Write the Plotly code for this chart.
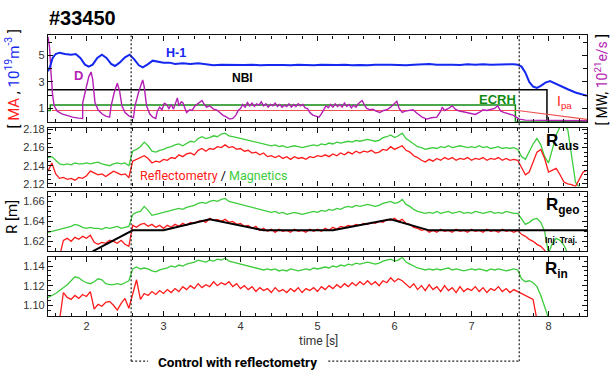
import plotly.graph_objects as go

# ---------------- data ----------------
# Panel 1: H-1 density (blue), D fuelling (magenta), NBI, ECRH, Ipa
H1_T = [1.50,1.53,1.56,1.60,1.65,1.72,1.80,1.86,1.92,1.98,
        2.03,2.08,2.14,2.20,2.26,2.32,2.37,2.43,2.50,2.56,
        2.62,2.68,2.73,2.79,2.86,2.93,3.00,3.08,3.15,3.25,
        3.35,3.45,3.55,3.65,3.75,3.85,3.95,4.05,4.15,4.25,
        4.35,4.45,4.55,4.65,4.75,4.85,4.95,5.05,5.15,5.25,
        5.35,5.45,5.55,5.65,5.75,5.85,5.95,6.05,6.15,6.25,
        6.35,6.45,6.55,6.65,6.75,6.85,6.95,7.05,7.15,7.25,
        7.35,7.45,7.55,7.60,7.65,7.70,7.75,7.80,7.85,7.90,
        7.96,8.02,8.08,8.15,8.25,8.35,8.45,8.50]
H1_V = [3.8,4.2,4.8,5.1,5.2,5.1,5.05,5.1,4.8,4.3,
        4.15,4.3,4.8,5.05,4.8,4.35,4.2,4.45,4.85,5.05,
        4.7,4.25,4.1,4.3,4.6,4.5,4.45,4.45,4.35,4.4,
        4.35,4.4,4.3,4.25,4.3,4.28,4.25,4.27,4.3,4.26,
        4.28,4.25,4.27,4.26,4.3,4.28,4.26,4.3,4.28,4.27,
        4.3,4.26,4.28,4.25,4.3,4.32,4.3,4.28,4.25,4.3,
        4.33,4.35,4.3,4.32,4.3,4.28,4.32,4.3,4.33,4.3,
        4.32,4.31,4.33,4.3,4.15,3.7,3.0,2.65,2.55,2.7,
        2.95,3.07,2.9,2.7,2.45,2.2,2.0,1.95]

D_T = [1.50,1.52,1.54,1.56,1.58,1.62,1.68,1.75,1.82,1.90,1.95,1.951,1.99,2.03,2.06,2.08,2.11,2.15,2.20,2.25,
       2.30,2.32,2.36,2.40,2.43,2.46,2.50,2.55,2.61,2.63,2.68,2.73,2.75,2.78,2.82,2.86,2.90,2.92,2.95,2.98,
       3.01,3.04,3.07,3.10,3.13,3.16,3.18,3.20,3.23,3.25,3.28,3.30,3.34,3.37,3.41,3.45,3.50,3.53,3.56,3.60,
       3.65,3.69,3.73,3.77,3.82,3.86,3.90,3.94,3.97,4.00,4.03,4.06,4.09,4.12,4.15,4.18,4.21,4.24,4.27,4.30,
       4.33,4.36,4.39,4.42,4.45,4.48,4.51,4.54,4.57,4.60,4.63,4.66,4.69,4.72,4.75,4.78,4.81,4.84,4.87,4.90,
       4.94,4.98,5.02,5.05,5.08,5.11,5.14,5.17,5.20,5.23,5.26,5.29,5.32,5.35,5.38,5.41,5.44,5.47,5.50,5.53,
       5.56,5.58,5.61,5.64,5.68,5.72,5.76,5.81,5.86,5.90,5.95,5.99,6.03,6.06,6.10,6.14,6.18,6.24,6.30,6.36,
       6.42,6.48,6.55,6.60,6.62,6.65,6.70,6.75,6.79,6.84,6.89,6.94,7.00,7.05,7.10,7.15,7.20,7.25,7.30,7.34,
       7.38,7.42,7.48,7.54,7.58,7.62,7.70,8.00,8.50]
D_V = [6.4,5.6,3.6,2.0,1.2,0.8,0.6,0.45,0.35,0.27,0.25,1.45,2.5,3.4,3.75,3.2,1.45,0.9,0.6,0.42,
       0.35,1.2,2.2,2.9,2.3,1.2,0.7,0.45,0.3,1.2,2.3,3.15,2.6,1.2,0.6,0.35,0.25,0.8,1.1,0.9,
       1.4,1.3,1.0,1.3,0.95,1.5,1.8,1.2,1.5,1.45,1.0,0.7,0.9,0.85,1.2,1.4,1.6,1.3,1.1,1.2,
       0.95,0.9,0.7,0.5,0.35,0.2,0.25,0.5,0.85,1.0,1.3,1.1,1.45,1.2,1.4,1.15,1.35,1.25,1.5,1.2,
       1.35,1.1,1.3,1.2,1.4,1.15,1.3,1.1,1.25,1.15,1.35,1.1,1.3,1.15,1.35,1.2,1.3,1.05,1.0,0.7,
       0.5,0.4,0.35,0.6,0.9,1.2,1.05,1.3,1.1,1.35,1.15,1.3,1.1,1.4,1.15,1.3,1.05,1.25,1.1,1.35,
       1.5,1.6,1.25,1.0,0.9,0.95,0.8,0.7,0.85,0.9,1.1,1.3,1.55,1.0,0.7,0.8,0.85,0.9,0.6,0.35,
       0.2,0.3,0.35,0.8,1.1,0.85,1.0,1.2,0.95,0.8,0.75,0.7,0.6,0.55,0.7,0.9,0.85,0.95,1.0,1.2,
       0.8,0.7,0.6,0.5,0.35,0.2,0.12,0.1,0.08]

NBI_T = [1.50, 7.98, 7.98, 8.50]
NBI_V = [2.4, 2.4, 0.0, 0.0]
ECRH_T = [1.50, 1.53, 1.53, 7.57, 7.57, 8.50]
ECRH_V = [0.85, 0.85, 1.27, 1.27, 0.0, 0.0]
IPA_T = [1.55, 7.60, 8.50]
IPA_V = [0.85, 0.85, 0.18]

# Panels 2-4: common time base [s]
T = [1.50,1.55,1.60,1.65,1.70,1.75,1.80,1.85,1.90,1.95,
     2.00,2.05,2.10,2.15,2.20,2.25,2.30,2.35,2.40,2.45,
     2.50,2.55,2.60,2.65,2.70,2.75,2.80,2.85,2.90,2.95,
     3.00,3.05,3.10,3.15,3.20,3.25,3.30,3.35,3.40,3.45,
     3.50,3.55,3.60,3.65,3.70,3.75,3.80,3.85,3.90,3.95,
     4.00,4.05,4.10,4.15,4.20,4.25,4.30,4.35,4.40,4.45,
     4.50,4.55,4.60,4.65,4.70,4.75,4.80,4.85,4.90,4.95,
     5.00,5.05,5.10,5.15,5.20,5.25,5.30,5.35,5.40,5.45,
     5.50,5.55,5.60,5.65,5.70,5.75,5.80,5.85,5.90,5.95,
     6.00,6.05,6.10,6.15,6.20,6.25,6.30,6.35,6.40,6.45,
     6.50,6.55,6.60,6.65,6.70,6.75,6.80,6.85,6.90,6.95,
     7.00,7.05,7.10,7.15,7.20,7.25,7.30,7.35,7.40,7.45,
     7.50,7.55,7.60,7.65,7.70,7.75,7.80,7.85,7.90,7.95,
     8.00,8.05,8.10,8.15,8.20,8.25,8.30,8.35,8.40,8.45,
     8.50]

RAUS_MAG = [2.149,2.150,2.146,2.142,2.141,2.142,2.141,2.143,2.142,2.142,
            2.143,2.142,2.143,2.144,2.142,2.141,2.140,2.142,2.143,2.142,
            2.143,2.140,2.156,2.158,2.161,2.166,2.162,2.156,2.155,2.157,
            2.158,2.160,2.161,2.163,2.164,2.162,2.165,2.167,2.166,2.170,
            2.172,2.170,2.171,2.173,2.172,2.175,2.176,2.173,2.172,2.171,
            2.170,2.169,2.168,2.167,2.166,2.165,2.164,2.163,2.162,2.163,
            2.161,2.162,2.160,2.161,2.162,2.161,2.160,2.161,2.162,2.163,
            2.162,2.164,2.163,2.165,2.164,2.166,2.165,2.166,2.167,2.166,
            2.168,2.167,2.168,2.169,2.168,2.167,2.168,2.171,2.172,2.174,
            2.171,2.173,2.176,2.170,2.167,2.164,2.161,2.160,2.158,2.159,
            2.160,2.159,2.161,2.160,2.162,2.160,2.161,2.162,2.161,2.160,
            2.161,2.160,2.162,2.160,2.161,2.159,2.160,2.161,2.159,2.160,
            2.159,2.160,2.158,2.150,2.147,2.156,2.164,2.170,2.163,2.150,
            2.143,2.158,2.174,2.183,2.185,2.180,2.150,2.122,2.116,None,
            None]
RAUS_REF = [2.134,2.143,2.131,2.126,2.127,2.125,2.126,2.124,2.127,2.126,
            2.129,2.134,2.132,2.130,2.131,2.128,2.131,2.134,2.132,2.130,
            2.131,2.127,2.145,2.147,2.149,2.151,2.148,2.143,2.145,2.144,
            2.147,2.146,2.149,2.148,2.152,2.150,2.153,2.154,2.152,2.157,
            2.159,2.156,2.159,2.158,2.161,2.160,2.163,2.160,2.161,2.158,
            2.159,2.156,2.157,2.154,2.155,2.152,2.154,2.150,2.151,2.149,
            2.151,2.148,2.150,2.147,2.150,2.148,2.149,2.147,2.150,2.149,
            2.151,2.150,2.152,2.150,2.153,2.151,2.154,2.152,2.155,2.153,
            2.156,2.154,2.156,2.155,2.157,2.154,2.155,2.158,2.157,2.161,
            2.158,2.160,2.162,2.157,2.155,2.151,2.149,2.146,2.144,2.147,
            2.145,2.148,2.146,2.149,2.147,2.149,2.146,2.148,2.147,2.149,
            2.146,2.148,2.147,2.149,2.146,2.148,2.147,2.149,2.146,2.148,
            2.146,2.147,2.146,2.138,2.130,2.133,2.145,2.155,2.158,2.148,
            2.133,2.135,2.137,2.130,2.122,2.120,2.119,2.117,2.125,2.133,
            2.135]

RGEO_MAG = [1.629,1.630,1.631,1.632,1.633,1.634,1.635,1.637,1.636,1.634,
            1.633,1.634,1.633,1.633,1.632,1.634,1.633,1.634,1.635,1.633,
            1.634,1.635,1.647,1.649,1.650,1.655,1.651,1.646,1.647,1.648,
            1.649,1.650,1.651,1.652,1.653,1.652,1.654,1.655,1.656,1.658,
            1.659,1.658,1.660,1.661,1.660,1.662,1.663,1.660,1.659,1.658,
            1.657,1.656,1.655,1.654,1.653,1.652,1.651,1.650,1.649,1.650,
            1.648,1.649,1.647,1.648,1.649,1.648,1.647,1.648,1.649,1.650,
            1.649,1.651,1.650,1.652,1.651,1.653,1.652,1.654,1.655,1.654,
            1.656,1.655,1.656,1.657,1.656,1.655,1.656,1.658,1.659,1.660,
            1.658,1.659,1.662,1.657,1.655,1.652,1.650,1.649,1.648,1.649,
            1.648,1.650,1.648,1.649,1.650,1.648,1.649,1.650,1.648,1.649,
            1.648,1.650,1.649,1.648,1.649,1.650,1.648,1.649,1.648,1.650,
            1.649,1.648,1.648,1.642,1.637,1.639,1.642,1.643,1.639,1.630,
            1.608,1.618,1.623,1.621,1.616,1.608,None,None,None,None,
            None]
RGEO_REF = [None,None,None,1.605,1.621,1.623,1.620,1.624,1.622,1.625,
            1.623,1.626,1.619,1.617,1.619,1.618,1.621,1.620,1.618,1.621,
            1.617,1.615,1.636,1.634,1.637,1.638,1.635,1.637,1.634,1.636,
            1.633,1.636,1.634,1.637,1.635,1.638,1.636,1.639,1.638,1.640,
            1.641,1.639,1.643,1.641,1.642,1.640,1.642,1.639,1.640,1.637,
            1.638,1.635,1.636,1.633,1.635,1.631,1.633,1.630,1.632,1.629,
            1.632,1.630,1.631,1.629,1.632,1.630,1.631,1.629,1.632,1.630,
            1.632,1.630,1.633,1.631,1.634,1.632,1.635,1.634,1.636,1.635,
            1.637,1.636,1.638,1.637,1.639,1.638,1.640,1.639,1.642,1.641,
            1.643,1.640,1.642,1.638,1.637,1.634,1.633,1.631,1.632,1.629,
            1.631,1.629,1.632,1.630,1.631,1.629,1.632,1.630,1.631,1.629,
            1.632,1.630,1.631,1.629,1.632,1.630,1.631,1.629,1.632,1.630,
            1.631,1.629,1.631,1.627,1.625,1.622,1.620,1.617,1.615,1.611,
            1.605,None,None,None,None,None,None,None,None,None,
            None]
INJ_T = [2.08, 2.60, 3.00, 3.60, 4.30, 5.20, 5.95, 6.45, 8.50]
INJ_V = [1.610, 1.631, 1.631, 1.642, 1.631, 1.631, 1.642, 1.631, 1.631]

RIN_MAG = [1.108,1.110,1.112,1.115,1.118,1.121,1.125,1.129,1.128,1.125,
           1.123,1.122,1.124,1.127,1.126,1.122,1.121,1.121,1.122,1.121,
           1.123,1.125,1.137,1.139,1.137,1.138,1.137,1.135,1.134,1.136,
           1.137,1.138,1.140,1.139,1.141,1.140,1.142,1.143,1.144,1.146,
           1.145,1.144,1.146,1.145,1.147,1.146,1.148,1.145,1.144,1.143,
           1.142,1.141,1.140,1.139,1.138,1.137,1.136,1.137,1.136,1.137,
           1.135,1.136,1.135,1.137,1.136,1.135,1.136,1.137,1.136,1.138,
           1.137,1.138,1.139,1.138,1.140,1.139,1.141,1.140,1.142,1.141,
           1.143,1.142,1.143,1.144,1.143,1.142,1.143,1.145,1.146,1.147,
           1.145,1.146,1.149,1.144,1.142,1.140,1.138,1.137,1.136,1.137,
           1.136,1.137,1.136,1.137,1.138,1.136,1.137,1.136,1.135,1.136,
           1.137,1.136,1.137,1.136,1.135,1.137,1.136,1.137,1.136,1.135,
           1.136,1.137,1.136,1.127,1.124,1.125,1.123,1.119,1.110,1.098,
           1.087,None,None,None,None,None,None,None,None,None,
           None]
RIN_REF = [None,None,None,1.085,1.113,1.108,1.106,1.110,1.107,1.111,
           1.109,1.114,1.096,1.101,1.099,1.103,1.104,1.100,1.095,1.102,
           1.107,1.097,1.112,1.126,1.106,1.112,1.110,1.114,1.111,1.115,
           1.112,1.116,1.113,1.117,1.114,1.119,1.116,1.120,1.117,1.122,
           1.118,1.121,1.119,1.124,1.120,1.123,1.121,1.124,1.119,1.122,
           1.117,1.120,1.116,1.119,1.114,1.118,1.115,1.117,1.113,1.118,
           1.114,1.116,1.113,1.117,1.114,1.118,1.113,1.117,1.115,1.118,
           1.114,1.119,1.116,1.120,1.117,1.121,1.118,1.122,1.119,1.123,
           1.120,1.124,1.121,1.125,1.121,1.124,1.120,1.125,1.123,1.128,
           1.124,1.127,1.125,1.121,1.118,1.122,1.116,1.120,1.115,1.121,
           1.116,1.119,1.114,1.120,1.115,1.118,1.113,1.119,1.114,1.117,
           1.115,1.119,1.114,1.118,1.113,1.117,1.115,1.119,1.114,1.117,
           1.113,1.116,1.114,1.112,1.110,1.108,1.106,1.085,None,None,
           None,None,None,None,None,None,None,None,None,None,
           None]

X_TICKS = [2, 3, 4, 5, 6, 7, 8]
P1_TICKVALS = [1, 3, 5]
CONTROL_START, CONTROL_END = 2.58, 7.62

# ---------------- styling ----------------
W, H = 611, 376
BLUE = "#1428f0"
MAG = "#b41eb4"
RED = "#ff1a1a"
GRN = "#3ccc3c"
DGRN = "#138a13"
TICKFONT = dict(family="Liberation Sans, Arial, sans-serif", size=11, color="#333333")

def px(x, y):
    return x / W, 1 - y / H

XDOM = [48 / W, 587 / W]
panels = [(32, 120, [0, 6.5]), (126, 186, [2.117, 2.182]),
          (192, 252, [1.610, 1.669]), (258, 318, [1.089, 1.149])]

fig = go.Figure()

def line(x, y, color, width, axis, dash=None):
    fig.add_trace(go.Scatter(x=x, y=y, mode="lines", xaxis="x" + axis, yaxis="y" + axis,
                             line=dict(color=color, width=width, dash=dash),
                             showlegend=False, hoverinfo="skip"))

line(NBI_T, NBI_V, "#000000", 1.5, "")
line(ECRH_T, ECRH_V, DGRN, 1.5, "")
line(IPA_T, IPA_V, "#f05050", 1.1, "")
line(D_T, D_V, MAG, 1.4, "")
line(H1_T, H1_V, BLUE, 2.0, "")

line(T, RAUS_MAG, GRN, 1.3, "2")
line(T, RAUS_REF, RED, 1.3, "2")
line(T, RGEO_MAG, GRN, 1.3, "3")
line(T, RGEO_REF, RED, 1.3, "3")
line(INJ_T, INJ_V, "#000000", 2.0, "3")
line(T, RIN_MAG, GRN, 1.3, "4")
line(T, RIN_REF, RED, 1.3, "4")

layout = dict(width=W, height=H, margin=dict(l=0, r=0, t=0, b=0), autosize=False,
              paper_bgcolor="white", plot_bgcolor="white", showlegend=False)

for i, (top, bot, rng) in enumerate(panels):
    k = "" if i == 0 else str(i + 1)
    xa = dict(domain=XDOM, range=[1.5, 8.5], anchor="y" + k, showline=True, linecolor="#111",
              linewidth=1.3, mirror="allticks", ticks="inside", ticklen=5, tickcolor="#111",
              tickvals=X_TICKS, showgrid=False, zeroline=False, tickfont=TICKFONT,
              showticklabels=(i == 3),
              minor=dict(ticks="inside", ticklen=3, dtick=0.2, tick0=0, tickcolor="#111"))
    if i > 0:
        xa["matches"] = "x"
    ya = dict(domain=[1 - bot / H, 1 - top / H], range=rng, anchor="x" + k, showline=True,
              linecolor="#111", linewidth=1.3, mirror="allticks", ticks="inside", ticklen=5,
              tickcolor="#111", showgrid=False, zeroline=False, tickfont=TICKFONT)
    if i == 0:
        ya.update(tickvals=P1_TICKVALS,
                  minor=dict(ticks="inside", ticklen=4, dtick=1, tick0=0, tickcolor="#111"))
    else:
        ya.update(dtick=0.02, tick0=0, tickformat=".2f",
                  minor=dict(ticks="inside", ticklen=3, dtick=0.005, tick0=0, tickcolor="#111"))
    layout["xaxis" + k] = xa
    layout["yaxis" + k] = ya

fig.update_layout(**layout)

# dotted control bracket
dot = dict(color="#222", width=1.2, dash="2px,2px")
y_top = 1 - 32 / H
y_bot = 1 - 364 / H
shapes = [
    dict(type="line", xref="x", yref="paper", x0=CONTROL_START, x1=CONTROL_START, y0=y_bot, y1=y_top, line=dot),
    dict(type="line", xref="x", yref="paper", x0=CONTROL_END, x1=CONTROL_END, y0=y_bot, y1=y_top, line=dot),
    dict(type="line", xref="x", yref="paper", x0=CONTROL_START, x1=2.80, y0=y_bot, y1=y_bot, line=dot),
    dict(type="line", xref="x", yref="paper", x0=5.14, x1=CONTROL_END, y0=y_bot, y1=y_bot, line=dot),
]
fig.update_layout(shapes=shapes)

def ann(text, x, y, size, color="#000", family="Liberation Sans, Arial, sans-serif",
        xanchor="center", angle=0):
    ax, ay = px(x, y)
    fig.add_annotation(text=text, x=ax, y=ay, xref="paper", yref="paper", showarrow=False,
                       xanchor=xanchor, yanchor="middle", textangle=angle,
                       font=dict(size=size, color=color, family=family))

ann("<b>#33450</b>", 47, 14, 20, xanchor="left")
ann("<b>H-1</b>", 176, 50, 12.5, BLUE)
ann("<b>D</b>", 78, 73, 13, MAG)
ann("<b>NBI</b>", 242, 75, 12)
ann("<b>ECRH</b>", 497, 97, 13, DGRN)
ann("I<sub>pa</sub>", 564, 100, 14, "#ff2020")
ann("<b>R<sub>aus</sub></b>", 562, 141, 17)
ann("<b>R<sub>geo</sub></b>", 562, 206, 17)
ann("<b>R<sub>in</sub></b>", 556, 271, 17)
ann("<b>Inj. Traj.</b>", 561, 240, 8.5)
ann("<span style='color:#ff2020'>Reflectometry</span> / <span style='color:#3ccc3c'>Magnetics</span>",
    213, 175, 12.5, "#000", "Roboto, sans-serif")
ann("time [s]", 318, 343, 12, "#333", "Roboto, sans-serif")
ann("<b>Control with reflectometry</b>", 237, 365, 13.5, "#000", "Roboto, sans-serif")
ann("[ <span style='color:#ff2020'>MA</span> , <span style='color:#1428f0'>10<sup>19</sup>m<sup>-3</sup></span> ]",
    12, 77, 15, "#000", "Roboto, sans-serif", angle=-90)
ann("[ MW, <span style='color:#b41eb4'>10<sup>21</sup>e/s</span> ]",
    601, 77, 14, "#000", "Roboto, sans-serif", angle=-90)
ann("R [m]", 12, 217, 15, "#000", "Roboto, sans-serif", angle=-90)

fig.write_html("out.html", config={"displayModeBar": False},
               post_script="document.body.style.margin='0';document.body.style.overflow='hidden';")
